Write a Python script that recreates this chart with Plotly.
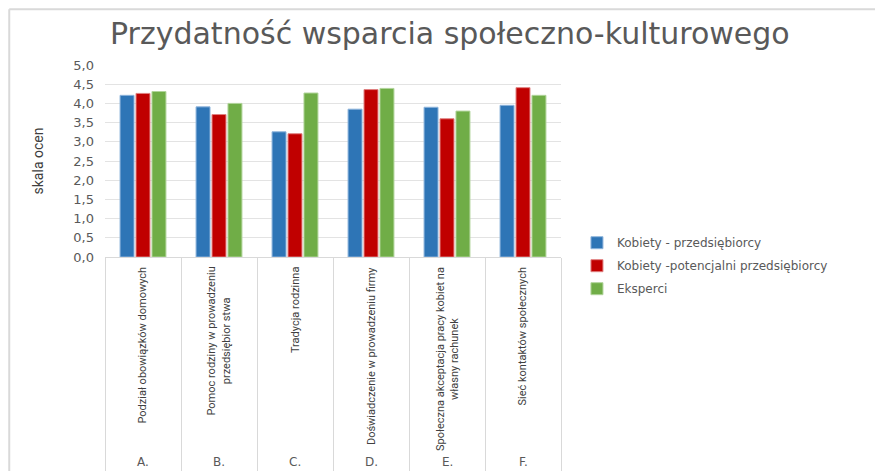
import plotly.graph_objects as go

categories = [
    "Podział obowiązków domowych",
    "Pomoc rodziny w prowadzeniu<br>przedsiębior stwa",
    "Tradycja rodzinna",
    "Doświadczenie w prowadzeniu firmy",
    "Społeczna akceptacja pracy kobiet na<br>własny rachunek",
    "Sieć kontaktów społecznych",
]
letters = ["A.", "B.", "C.", "D.", "E.", "F."]

series_names = [
    "Kobiety - przedsiębiorcy",
    "Kobiety -potencjalni przedsiębiorcy",
    "Eksperci",
]
kobiety_przedsiebiorcy = [4.21, 3.91, 3.26, 3.85, 3.90, 3.95]
kobiety_potencjalni = [4.26, 3.71, 3.21, 4.36, 3.60, 4.41]
eksperci = [4.31, 4.00, 4.27, 4.39, 3.80, 4.21]

y_ticks = [0, 0.5, 1, 1.5, 2, 2.5, 3, 3.5, 4, 4.5, 5]

colors = ["#2E75B6", "#C00000", "#70AD47"]
edge = ["#8fb5dc", "#e08080", "#b0d49a"]
values = [kobiety_przedsiebiorcy, kobiety_potencjalni, eksperci]

narrow = "Roboto, Liberation Sans, sans-serif"
wide = "DejaVu Sans, Verdana, sans-serif"

fig = go.Figure()
for name, vals, c, e in zip(series_names, values, colors, edge):
    fig.add_trace(go.Bar(
        name=name, x=categories, y=vals,
        marker=dict(color=c, line=dict(color=e, width=1)),
        legendgroup=name,
    ))

for cat, let in zip(categories, letters):
    fig.add_annotation(x=cat, xref="x", y=-0.042, yref="paper",
                       text=cat, textangle=-90, showarrow=False,
                       xanchor="center", yanchor="top", align="center",
                       font=dict(family=narrow, size=11, color="#404040"))
    fig.add_annotation(x=cat, xref="x", y=-1.068, yref="paper",
                       text=let, showarrow=False,
                       xanchor="center", yanchor="middle",
                       font=dict(family=wide, size=12, color="#595959"))

# outer frame (screenshot border)
fig.add_shape(type="line", xref="paper", yref="paper",
              x0=-0.21, x1=1.75, y0=1.29, y1=1.29,
              line=dict(color="#d9d9d9", width=2))
fig.add_shape(type="line", xref="paper", yref="paper",
              x0=-0.21, x1=-0.21, y0=1.29, y1=-1.2,
              line=dict(color="#d9d9d9", width=2))

fig.update_layout(
    width=875, height=463,
    margin=dict(l=97, r=322, t=57, b=214),
    paper_bgcolor="white", plot_bgcolor="white",
    separators=",.",
    barmode="group", bargap=0.37, bargroupgap=0.125,
    title=dict(text="Przydatność wsparcia społeczno-kulturowego",
               x=0.505, xanchor="center", y=0.946, yanchor="middle",
               font=dict(family=wide, size=30, color="#595959")),
    showlegend=True,
    legend=dict(x=1.035, xref="paper", xanchor="left", y=0.15, yanchor="top",
                traceorder="grouped", tracegroupgap=4,
                font=dict(family=wide, size=12, color="#595959"),
                bgcolor="rgba(0,0,0,0)"),
    xaxis=dict(type="category", showticklabels=False, showgrid=False,
               showline=True, linecolor="#d9d9d9", linewidth=1,
               ticks="outside", tickson="boundaries", ticklen=214,
               tickcolor="#d9d9d9", tickwidth=1, automargin=False,
               fixedrange=True),
    yaxis=dict(range=[0, 5], tickvals=y_ticks, tickformat=".1f",
               showgrid=True, gridcolor="#e3e3e3", gridwidth=1,
               zeroline=False, showline=False, ticks="",
               ticklabelstandoff=10, automargin=False,
               tickfont=dict(family=wide, size=13, color="#595959"),
               title=dict(text="skala ocen", standoff=26,
                          font=dict(family=narrow, size=14, color="#404040"))),
)

fig.write_html("out.html")
